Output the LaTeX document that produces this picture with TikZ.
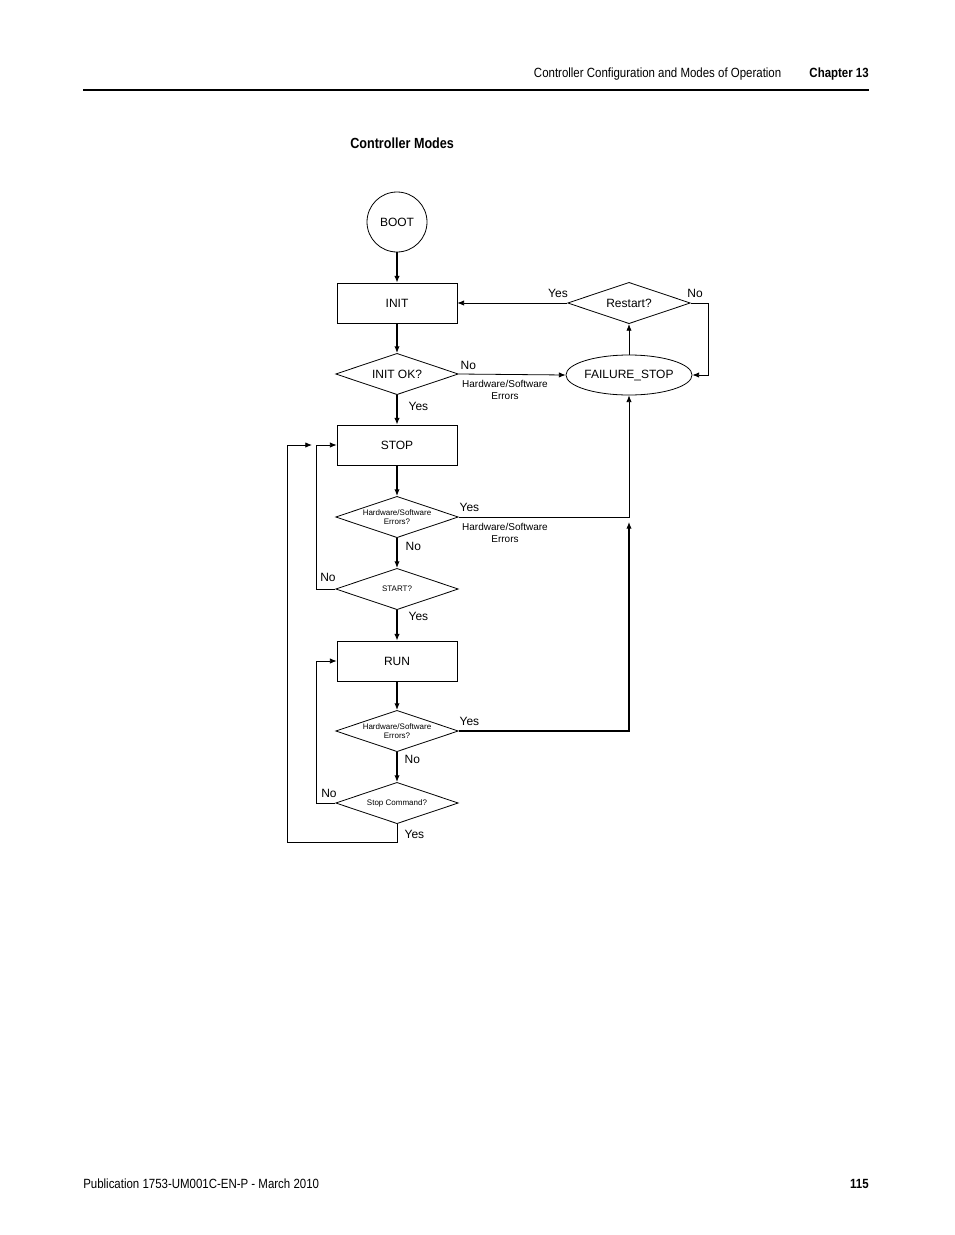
\documentclass[tikz,border=0pt]{standalone}
\usepackage{fontspec}
\setmainfont{Liberation Sans}
\newfontfamily\narrowfont[FakeStretch=0.86]{Liberation Sans}
\usetikzlibrary{positioning, calc, arrows.meta, shapes.geometric}
\tikzset{box/.style={draw, line width=0.6pt, minimum width=90pt, minimum height=30pt, inner sep=0pt, font=\fontsize{9}{10}\selectfont}}
\tikzset{decision/.style={draw, line width=0.6pt, diamond, aspect=3, minimum width=92pt, minimum height=31pt, inner sep=0pt, font=\fontsize{9}{10}\selectfont}}
\tikzset{smalldecision/.style={decision, font=\fontsize{6}{7}\selectfont, align=center}}
\tikzset{flow/.style={thick, -{Latex[length=5pt,width=4pt]}}}
\tikzset{lbl/.style={font=\fontsize{9}{10}\selectfont, inner sep=1pt}}
\tikzset{errlbl/.style={font=\fontsize{7.5}{8.5}\selectfont, align=center, inner sep=0pt}}
\begin{document}
\begin{tikzpicture}[x=0.75pt, y=-0.75pt]
      \useasboundingbox (0,0) rectangle (954,1235);
      % page header and footer
      \node[anchor=east, font=\narrowfont\fontsize{10}{12}\selectfont] at (786,74) {Controller Configuration and Modes of Operation};
      \node[anchor=east, font=\narrowfont\bfseries\fontsize{10}{12}\selectfont, inner sep=0pt] at (869,74) {Chapter 13};
      \draw[line width=2.2pt] (83,90) -- (869,90);
      \node[anchor=west, font=\narrowfont\bfseries\fontsize{11}{13}\selectfont, inner sep=0pt] at (350,143) {Controller Modes};
      \node[anchor=west, font=\narrowfont\fontsize{10}{12}\selectfont, inner sep=0pt] at (83,1184) {Publication 1753-UM001C-EN-P - March 2010};
      \node[anchor=east, font=\narrowfont\bfseries\fontsize{10}{12}\selectfont, inner sep=0pt] at (869,1184) {115};

      % main column
      \node[draw, line width=0.6pt, circle, minimum size=45pt, inner sep=0pt, font=\fontsize{9}{10}\selectfont] (boot) at (397,222) {BOOT};
      \node[box] (init) at (397,303) {INIT};
      \node[decision] (initok) at (397,374) {INIT OK?};
      \node[box] (stop) at (397,445) {STOP};
      \node[smalldecision] (hwstop) at (397,517) {Hardware/Software\\Errors?};
      \node[smalldecision] (start) at (397,589) {START?};
      \node[box] (run) at (397,661) {RUN};
      \node[smalldecision] (hwrun) at (397,731) {Hardware/Software\\Errors?};
      \node[smalldecision] (stopcmd) at (397,803) {Stop Command?};

      % failure branch
      \node[decision] (restart) at (629,303) {Restart?};
      \node[draw, line width=0.6pt, ellipse, minimum width=90pt, minimum height=30pt, inner sep=0pt, font=\fontsize{9}{10}\selectfont] (failure) at (629,375) {FAILURE\_STOP};

      \coordinate (runerr) at (629,522);
      \coordinate (stopin) at (312,445);

      \draw[flow] (boot) -- (init);
      \draw[flow] (init) -- (initok);
      \draw[flow] (initok) -- (stop);
      \draw[flow] (stop) -- (hwstop);
      \draw[flow] (hwstop) -- (start);
      \draw[flow] (start) -- (run);
      \draw[flow] (run) -- (hwrun);
      \draw[flow] (hwrun) -- (stopcmd);

      \draw[flow, semithick] (initok.east) -- (failure.west);
      \draw[flow, semithick] (failure.north) -- (restart.south);
      \draw[flow, semithick] (restart.west) -- (init.east);
      \draw[flow, semithick] (restart.east) -- (708,303) -- (708,375) -- (failure.east);
      \draw[flow, semithick] (hwstop.east) -- (629,517) -- (failure.south);
      \draw[flow] (hwrun.east) -- (629,731) -- (runerr);
      \draw[flow, semithick] (start.west) -- (316,589) -- (316,445) -- (stop.west);
      \draw[flow, semithick] (stopcmd.west) -- (316,803) -- (316,661) -- (run.west);
      \draw[flow, semithick] (stopcmd.south) -- (397,842) -- (287,842) -- (287,445) -- (stopin);

      % labels
      \node[lbl, anchor=west] at (407,406) {Yes};
      \node[lbl, anchor=west] at (459,365) {No};
      \node[errlbl] at (505,390) {Hardware/Software\\Errors};
      \node[lbl] at (558,293) {Yes};
      \node[lbl] at (695,293) {No};
      \node[lbl, anchor=west] at (458,507) {Yes};
      \node[errlbl] at (505,533) {Hardware/Software\\Errors};
      \node[lbl, anchor=west] at (404,546) {No};
      \node[lbl] at (328,577) {No};
      \node[lbl, anchor=west] at (407,616) {Yes};
      \node[lbl, anchor=west] at (458,721) {Yes};
      \node[lbl, anchor=west] at (403,759) {No};
      \node[lbl] at (329,793) {No};
      \node[lbl, anchor=west] at (403,834) {Yes};
\end{tikzpicture}
\end{document}
